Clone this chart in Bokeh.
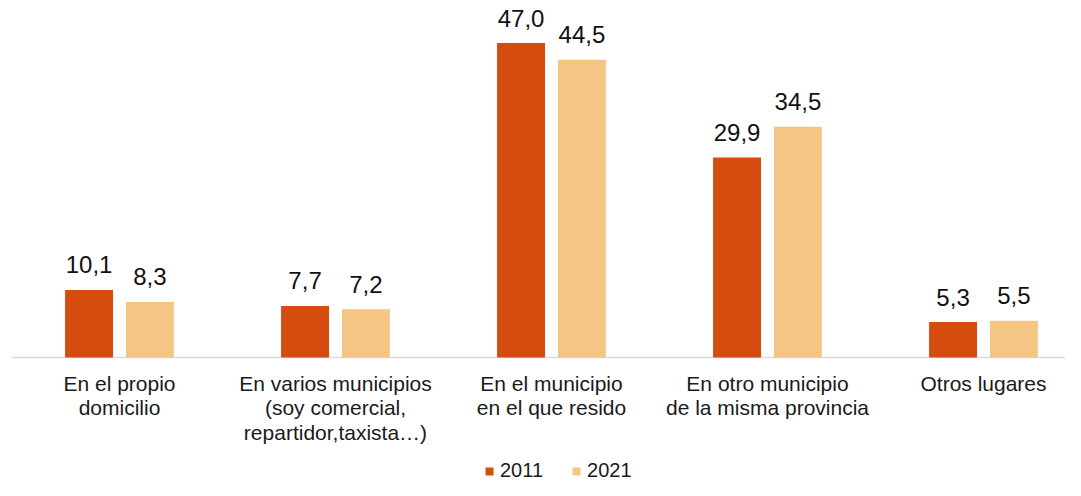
from bokeh.plotting import figure
from bokeh.models import ColumnDataSource, Range1d, Legend, LegendItem
from bokeh.core.properties import value
from bokeh.transform import dodge
from bokeh.embed import file_html
from bokeh.resources import INLINE

categories = [
    "En el propio\ndomicilio",
    "En varios municipios\n(soy comercial,\nrepartidor,taxista…)",
    "En el municipio\nen el que resido",
    "En otro municipio\nde la misma provincia",
    "Otros lugares",
]
series_names = ["2011", "2021"]
values_2011 = [10.1, 7.7, 47.0, 29.9, 5.3]
values_2021 = [8.3, 7.2, 44.5, 34.5, 5.5]

COL_2011 = "#D64C0F"
COL_2021 = "#F4C583"
FONT = "Liberation Sans"

W, H = 1065, 480
cat_px = 216.0           # pixels per category
first_center_px = 119.0  # screen x of first category centre
base_px = 357.0          # screen y of baseline
unit_px = 6.69           # pixels per value unit

x0 = -first_center_px / cat_px
x1 = x0 + W / cat_px
y1 = base_px / unit_px
y0 = -(H - base_px) / unit_px

idx = list(range(len(categories)))
src = ColumnDataSource(dict(
    x=idx,
    zero=[0] * len(idx),
    cat=categories,
    v11=values_2011,
    v21=values_2021,
    t11=[f"{v:.1f}".replace(".", ",") for v in values_2011],
    t21=[f"{v:.1f}".replace(".", ",") for v in values_2021],
))

p = figure(width=W, height=H, output_backend="svg", toolbar_location=None,
           x_range=Range1d(x0, x1), y_range=Range1d(y0, y1),
           min_border=0, x_axis_location=None, y_axis_location=None)
p.outline_line_color = None
p.xgrid.visible = False
p.ygrid.visible = False

# baseline
p.segment(x0=[-0.5], y0=[0], x1=[x1], y1=[0], line_color="#D9D9D9", line_width=1.5)

off = 0.141
bw = 0.222
r1 = p.vbar(x=dodge("x", -off), top="v11", width=bw, source=src, fill_color=COL_2011, line_color=None)
r2 = p.vbar(x=dodge("x", off), top="v21", width=bw, source=src, fill_color=COL_2021, line_color=None)

for col, ycol, xo in (("t11", "v11", -off), ("t21", "v21", off)):
    p.text(x=dodge("x", xo), y=ycol, text=col, source=src, y_offset=-25,
           text_align="center", text_baseline="alphabetic",
           text_font=value(FONT), text_font_size="24px", text_color="#111111")

p.text(x="x", y="zero", text="cat", source=src, y_offset=14,
       text_align="center", text_baseline="top", text_line_height=1.075,
       text_font=value(FONT), text_font_size="21px", text_color="#1a1a1a")

legend = Legend(items=[LegendItem(label=series_names[0], renderers=[r1]),
                       LegendItem(label=series_names[1], renderers=[r2])],
                orientation="horizontal", location=(484, -2),
                glyph_width=10, glyph_height=10, label_standoff=6, spacing=28,
                label_text_font=FONT, label_text_font_size="20px", label_text_color="#1a1a1a",
                padding=0, margin=0, border_line_color=None, background_fill_alpha=0)
p.add_layout(legend, "center")

open("out.html", "w").write(file_html(p, INLINE))
